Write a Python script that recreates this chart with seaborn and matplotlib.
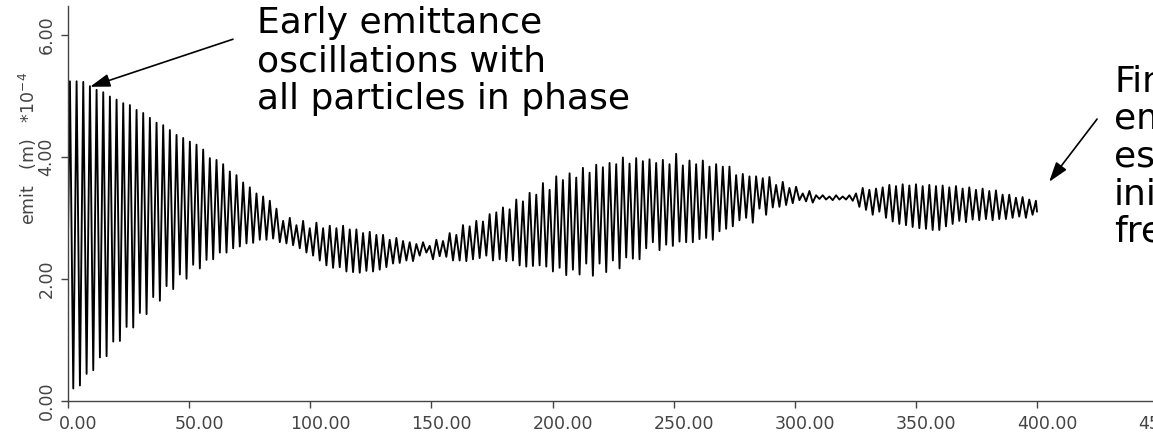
import numpy as np
import pandas as pd
import matplotlib
matplotlib.use("Agg")
import matplotlib.pyplot as plt
import seaborn as sns
from matplotlib.transforms import ScaledTranslation

# ---- data ----
period = 2.75            # oscillation period along the x axis
first_peak_x = 0.8
start_point = (0.0, 2.70)
end_point = (400.0, 3.10)

peaks = [
    5.24, 5.24, 5.23, 5.16, 5.10, 5.06, 4.99, 4.94, 4.88, 4.85,
    4.77, 4.72, 4.64, 4.56, 4.52, 4.44, 4.36, 4.31, 4.25, 4.20,
    4.12, 3.98, 3.95, 3.88, 3.76, 3.70, 3.58, 3.50, 3.40, 3.35,
    3.28, 3.15, 2.95, 3.00, 2.88, 2.95, 2.83, 2.92, 2.83, 2.87,
    2.83, 2.87, 2.81, 2.81, 2.75, 2.77, 2.72, 2.72, 2.64, 2.67,
    2.62, 2.60, 2.57, 2.60, 2.54, 2.64, 2.62, 2.75, 2.72, 2.88,
    2.86, 2.95, 2.94, 3.06, 3.09, 3.17, 3.14, 3.30, 3.27, 3.41,
    3.38, 3.57, 3.46, 3.68, 3.62, 3.73, 3.66, 3.82, 3.74, 3.87,
    3.83, 3.90, 3.88, 3.99, 3.89, 3.98, 3.93, 3.96, 3.90, 3.95,
    3.88, 4.05, 3.86, 3.94, 3.88, 3.94, 3.84, 3.88, 3.84, 3.84,
    3.70, 3.72, 3.68, 3.68, 3.65, 3.67, 3.54, 3.59, 3.49, 3.51,
    3.40, 3.44, 3.37, 3.37, 3.35, 3.37, 3.35, 3.37, 3.40, 3.49,
    3.46, 3.48, 3.50, 3.54, 3.52, 3.55, 3.53, 3.55, 3.52, 3.54,
    3.52, 3.53, 3.50, 3.52, 3.48, 3.50, 3.46, 3.48, 3.44, 3.45,
    3.38, 3.38, 3.33, 3.34, 3.30, 3.28,
]

troughs = [
    0.20, 0.25, 0.44, 0.50, 0.71, 0.73, 0.97, 0.98, 1.21, 1.20,
    1.44, 1.42, 1.70, 1.64, 1.88, 1.83, 2.07, 2.00, 2.23, 2.17,
    2.31, 2.32, 2.43, 2.43, 2.50, 2.53, 2.58, 2.59, 2.64, 2.64,
    2.66, 2.60, 2.58, 2.55, 2.50, 2.43, 2.38, 2.30, 2.22, 2.18,
    2.19, 2.12, 2.11, 2.10, 2.13, 2.12, 2.15, 2.19, 2.25, 2.26,
    2.30, 2.29, 2.38, 2.43, 2.32, 2.37, 2.36, 2.30, 2.30, 2.29,
    2.32, 2.34, 2.38, 2.30, 2.32, 2.29, 2.30, 2.22, 2.20, 2.21,
    2.22, 2.20, 2.12, 2.18, 2.06, 2.15, 2.07, 2.25, 2.05, 2.25,
    2.11, 2.30, 2.17, 2.35, 2.33, 2.32, 2.50, 2.60, 2.47, 2.56,
    2.54, 2.61, 2.60, 2.60, 2.65, 2.67, 2.64, 2.78, 2.82, 2.86,
    2.96, 3.00, 2.92, 3.15, 3.05, 3.17, 3.18, 3.21, 3.24, 3.29,
    3.27, 3.25, 3.31, 3.30, 3.29, 3.30, 3.30, 3.28, 3.18, 3.13,
    3.05, 3.10, 3.00, 2.94, 2.90, 2.88, 2.85, 2.83, 2.82, 2.80,
    2.80, 2.86, 2.90, 2.95, 2.93, 2.97, 2.96, 2.98, 2.96, 2.98,
    2.98, 3.00, 3.02, 3.00, 3.05,
]

x_ticks = [0, 50, 100, 150, 200, 250, 300, 350, 400, 450]
x_ticklabels = ["0.00", "50.00", "100.00", "150.00", "200.00", "250.00",
                "300.00", "350.00", "400.00", "450.00"]
y_ticks = [0, 2, 4, 6]
y_ticklabels = ["0.00", "2.00", "4.00", "6.00"]

left_note = "Early emittance\noscillations with\nall particles in phase"
right_note = "Final\nemittance\nessentially\ninitial\nfrequency"

# ---- assemble the series (peak, trough alternating) ----
xs = [start_point[0]]
ys = [start_point[1]]
for k, p in enumerate(peaks):
    xp = first_peak_x + period * k
    xs.append(xp)
    ys.append(p)
    if k < len(troughs):
        xs.append(xp + period / 2)
        ys.append(troughs[k])
xs.append(end_point[0])
ys.append(end_point[1])
df = pd.DataFrame({"turn": xs, "emit": ys})

# ---- figure ----
sns.set_theme(style="white")
plt.rcParams["font.family"] = ["DejaVu Sans"]

W, H = 1153, 436
fig = plt.figure(figsize=(W / 100, H / 100), dpi=100)
ax_left_px, ax_bottom_px = 68, 436 - 400.7
px_per_x = 2.4225
xmax = 450.5
ax_w_px = xmax * px_per_x
ax_h_px = 400.7 - 6
ax = fig.add_axes([ax_left_px / W, ax_bottom_px / H, ax_w_px / W, ax_h_px / H])

sns.lineplot(data=df, x="turn", y="emit", color="black", linewidth=1.35,
             estimator=None, sort=False, ax=ax)

ax.set_xlim(0, xmax)
ax.set_ylim(0, 6.475)

for side in ["top", "right"]:
    ax.spines[side].set_visible(False)
for side in ["left", "bottom"]:
    ax.spines[side].set_color("#444444")
    ax.spines[side].set_linewidth(1.0)

ax.set_xticks(x_ticks)
ax.set_xticklabels(x_ticklabels)
ax.set_yticks(y_ticks)
ax.set_yticklabels(y_ticklabels, rotation=90, va="center")
ax.tick_params(axis="both", which="major", direction="out", length=5,
               width=1.0, color="#444444", labelsize=12.5,
               labelcolor="#444444", bottom=True, left=True)
ax.tick_params(axis="x", pad=5)
ax.tick_params(axis="y", pad=4)
for lab in ax.get_xticklabels():
    lab.set_transform(lab.get_transform() +
                      ScaledTranslation(10 / 100, 0, fig.dpi_scale_trans))

ax.set_xlabel("")
ax.set_ylabel("emit   (m)   *10$^{-4}$", fontsize=12.5, color="#444444")
ax.yaxis.set_label_coords(-0.027, 0.64)

# annotations
arrow_kw = dict(arrowstyle="-|>,head_length=0.55,head_width=0.18",
                mutation_scale=22, lw=1.2, color="black",
                shrinkA=0, shrinkB=0)
ax.annotate("", xy=(9.1, 5.15), xytext=(68.1, 5.93),
            arrowprops=arrow_kw, annotation_clip=False)
ax.text(78.0, 6.47, left_note, fontsize=26, color="black", ha="left",
        va="top", linespacing=1.14, clip_on=False)

ax.annotate("", xy=(405.0, 3.59), xytext=(424.8, 4.62),
            arrowprops=arrow_kw, annotation_clip=False)
ax.text(431.8, 5.52, right_note, fontsize=26, color="black", ha="left",
        va="top", linespacing=1.14, clip_on=False)

fig.savefig("out.png", dpi=100)
